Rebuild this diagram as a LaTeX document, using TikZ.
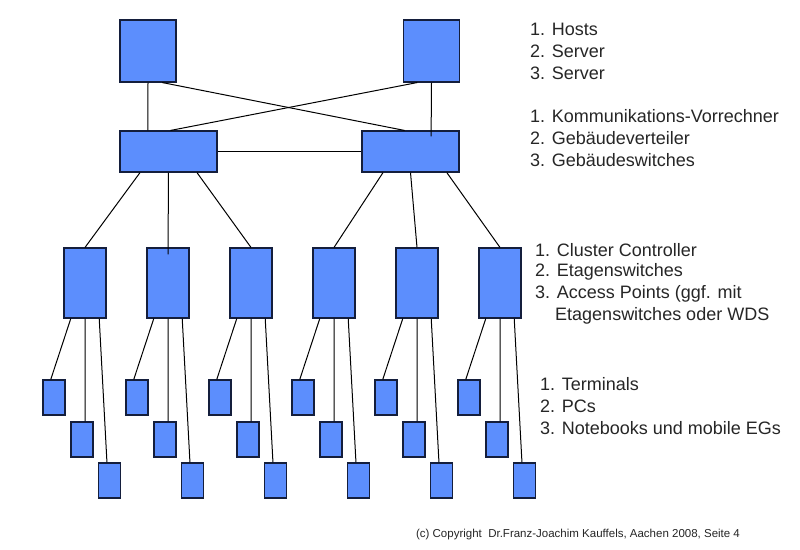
\documentclass[tikz,border=0pt]{standalone}
\usepackage{fontspec}
\setmainfont{Liberation Sans}
\usetikzlibrary{calc}
\definecolor{boxblue}{RGB}{92,142,253}
\definecolor{boxline}{RGB}{20,30,60}
\begin{document}
\begin{tikzpicture}[x=1pt,y=-1pt,
  box/.style={draw=boxline,fill=boxblue,line width=1.1pt,inner sep=0pt},
  big/.style={box,minimum width=56pt,minimum height=62pt},
  mid/.style={box,minimum width=97pt,minimum height=41pt},
  clu/.style={box,minimum width=42pt,minimum height=70pt},
  sml/.style={box,minimum width=22pt,minimum height=35pt},
  ln/.style={line width=1pt,black},
  lbl/.style={anchor=west,inner sep=0pt,font=\fontsize{18pt}{20pt}\selectfont,text=black!85}]
\useasboundingbox (0,0) rectangle (800,549);
\fill[white] (0,0) rectangle (800,549);
\newcommand{\bpt}[3]{($(#1.#2 west)!#3!(#1.#2 east)$)}
\node[big] (h1) at (148,51) {};
\node[big] (h2) at (431.5,51) {};
\node[mid] (m1) at (168.5,151.5) {};
\node[mid] (m2) at (410.5,151.5) {};
\draw[ln] \bpt{h1}{south}{0.5} -- \bpt{m1}{north}{0.29};
\draw[ln] \bpt{h2}{south}{0.5} -- ($(m2.north west)!0.71!(m2.north east)+(0,6)$);
\draw[ln] \bpt{h1}{south}{0.75} -- \bpt{m2}{north}{0.44};
\draw[ln] \bpt{h2}{south}{0.25} -- \bpt{m1}{north}{0.52};
\draw[ln] (m1.east) -- (m2.east -| m2.west);
\foreach \i/\x in {1/85,2/168,3/251,4/334,5/417,6/500}{
  \node[clu] (c\i) at (\x,283) {};
  \node[sml] (a\i) at (\x-31,397.5) {};
  \node[sml] (b\i) at (\x-3,439.5) {};
  \node[sml] (d\i) at (\x+24.5,480.5) {};
  \draw[ln] \bpt{c\i}{south}{0.17} -- \bpt{a\i}{north}{0.36};
  \draw[ln] \bpt{c\i}{south}{0.5} -- \bpt{b\i}{north}{0.64};
  \draw[ln] \bpt{c\i}{south}{0.83} -- \bpt{d\i}{north}{0.39};
}
\draw[ln] \bpt{m1}{south}{0.21} -- \bpt{c1}{north}{0.5};
\draw[ln] \bpt{m1}{south}{0.5} -- ($(c2.north)+(0,7)$);
\draw[ln] \bpt{m1}{south}{0.79} -- \bpt{c3}{north}{0.5};
\draw[ln] \bpt{m2}{south}{0.22} -- \bpt{c4}{north}{0.5};
\draw[ln] \bpt{m2}{south}{0.5} -- \bpt{c5}{north}{0.5};
\draw[ln] \bpt{m2}{south}{0.87} -- \bpt{c6}{north}{0.5};
\node[lbl] (t1) at (530,29) {1. Hosts};
\node[lbl] (t2) at (530,51) {2. Server};
\node[lbl] (t3) at (530,73) {3. Server};
\node[lbl] (t4) at (530,116) {1. Kommunikations-Vorrechner};
\node[lbl] (t5) at (530,138) {2. Gebäudeverteiler};
\node[lbl] (t6) at (530,160) {3. Gebäudeswitches};
\node[lbl] (t7) at (535,250) {1. Cluster Controller};
\node[lbl] (t8) at (535,272) {2. Etagenswitches};
\node[lbl] (t9) at (535,294) {3. Access Points (ggf. mit};
\node[lbl] (t10) at (555,316) {Etagenswitches oder WDS};
\node[lbl] (t11) at (540,384) {1. Terminals};
\node[lbl] (t12) at (540,406) {2. PCs};
\node[lbl] (t13) at (540,428) {3. Notebooks und mobile EGs};
\node[inner sep=0pt,font=\fontsize{11.5pt}{13pt}\selectfont,text=black!85] (cp) at (578,535) {(c) Copyright\ \ Dr.Franz-Joachim Kauffels, Aachen 2008, Seite 4};
\end{tikzpicture}
\end{document}
